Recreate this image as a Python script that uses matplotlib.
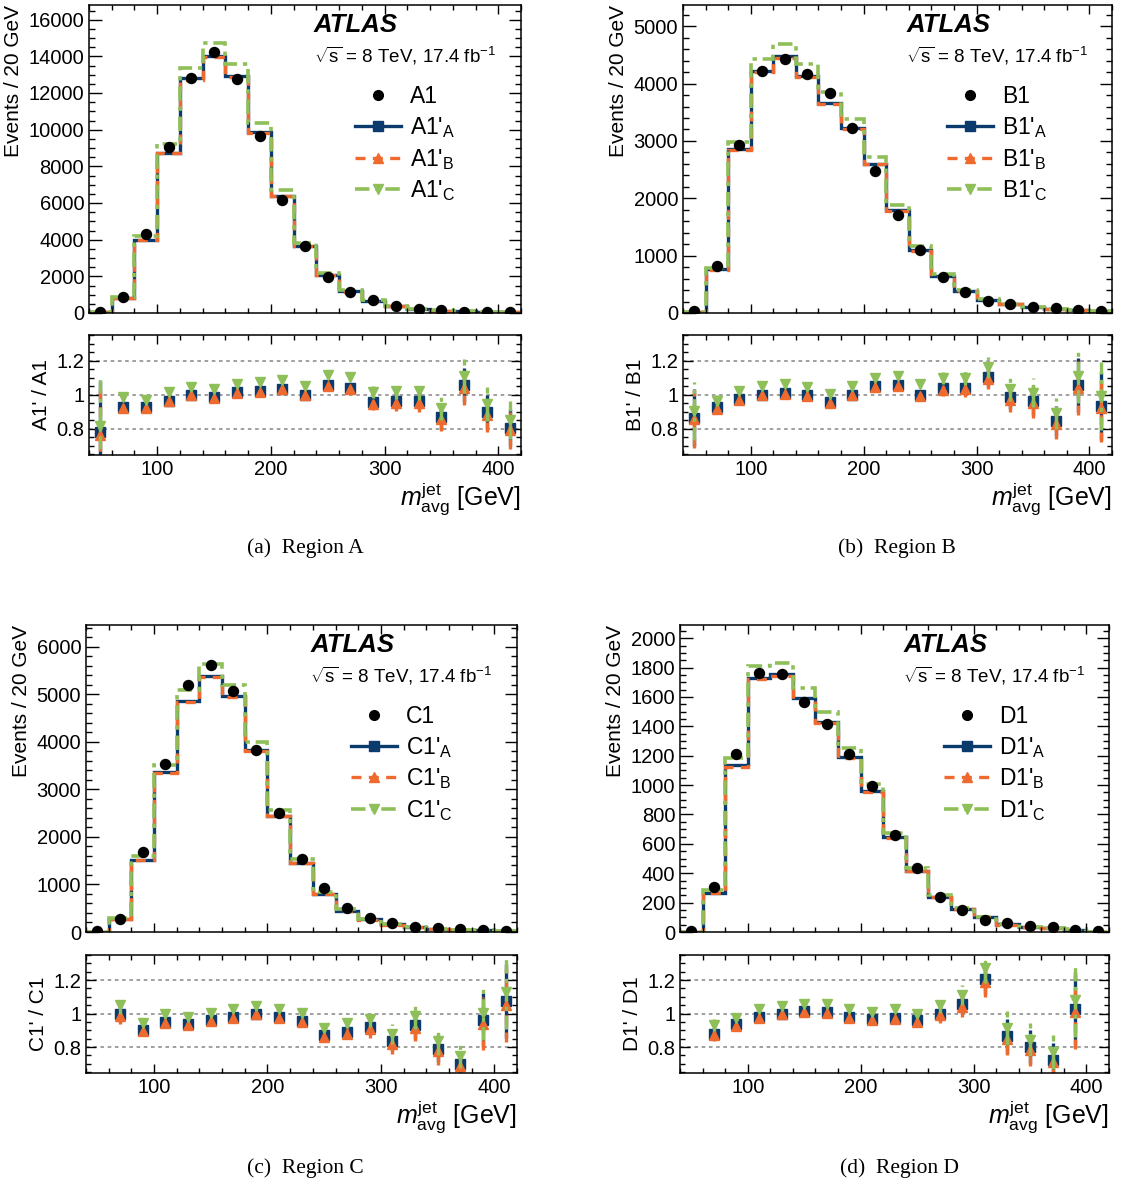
import numpy as np
import matplotlib
matplotlib.use("Agg")
import matplotlib.pyplot as plt
from matplotlib.ticker import MultipleLocator, FixedLocator, FixedFormatter, NullFormatter
from matplotlib.lines import Line2D

plt.rcParams['font.family'] = ['Liberation Sans', 'DejaVu Sans']
plt.rcParams['mathtext.fontset'] = 'custom'
plt.rcParams['mathtext.rm'] = 'Liberation Sans'
plt.rcParams['mathtext.it'] = 'Liberation Sans:italic'
plt.rcParams['mathtext.bf'] = 'Liberation Sans:bold'

nan = np.nan

# bin edges in m_avg^jet [GeV]
bin_edges = [40, 60, 80, 100, 120, 140, 160, 180, 200, 220, 240,
             260, 280, 300, 320, 340, 360, 380, 400, 420]

# region A
a_data = [40, 900, 4310, 9070, 12800, 14230, 12760, 9660, 6180, 3650,
          1980, 1130, 690, 400, 240, 150, 80, 55, 35]
a_ra = [0.78, 0.925, 0.925, 0.965, 1.0, 0.985, 1.015, 1.02, 1.035, 1.0,
        1.055, 1.04, 0.955, 0.96, 0.96, 0.87, 1.055, 0.895, 0.805]
a_rb = [0.76, 0.92, 0.92, 0.96, 0.995, 0.98, 1.01, 1.015, 1.03, 0.995,
        1.05, 1.03, 0.945, 0.95, 0.95, 0.855, 1.04, 0.88, 0.79]
a_rc = [0.815, 0.985, 0.97, 1.015, 1.045, 1.035, 1.065, 1.075, 1.085, 1.05,
        1.115, 1.105, 1.015, 1.02, 1.02, 0.92, 1.11, 0.945, 0.85]
a_err = [0.3, 0.02, 0.01, 0.01, 0.01, 0.01, 0.01, 0.01, 0.01, 0.01,
         0.015, 0.02, 0.035, 0.045, 0.05, 0.07, 0.1, 0.1, 0.11]

# region B
b_data = [28, 820, 2930, 4215, 4430, 4160, 3830, 3220, 2480, 1700,
          1100, 620, 365, 208, 155, 108, 80, 45, 28]
b_ra = [0.865, 0.925, 0.975, 1.0, 1.01, 0.995, 0.955, 1.0, 1.05, 1.055,
        1.0, 1.04, 1.04, 1.105, 0.985, 0.965, 0.845, 1.055, 0.935]
b_rb = [0.855, 0.915, 0.97, 0.995, 1.005, 0.99, 0.95, 0.995, 1.045, 1.05,
        0.99, 1.025, 1.03, 1.09, 0.97, 0.95, 0.83, 1.04, 0.92]
b_rc = [0.905, 0.965, 1.02, 1.05, 1.06, 1.045, 1.005, 1.05, 1.1, 1.11,
        1.06, 1.1, 1.1, 1.16, 1.03, 1.01, 0.89, 1.11, 0.99]
b_err = [0.17, 0.03, 0.01, 0.01, 0.01, 0.01, 0.01, 0.01, 0.01, 0.015,
         0.02, 0.035, 0.045, 0.06, 0.07, 0.085, 0.09, 0.16, 0.2]

# region C
c_data = [15, 275, 1683, 3540, 5200, 5620, 5070, 3830, 2500, 1528,
          930, 507, 290, 190, 106, 77, 60, 35, 15]
c_ra = [nan, 1.0, 0.9, 0.95, 0.935, 0.96, 0.98, 1.0, 0.98, 0.955,
        0.87, 0.89, 0.92, 0.835, 0.93, 0.79, 0.70, 0.96, 1.075]
c_rb = [nan, 0.985, 0.895, 0.945, 0.93, 0.955, 0.975, 0.995, 0.975, 0.95,
        0.86, 0.88, 0.905, 0.82, 0.915, 0.775, 0.685, 0.94, 1.05]
c_rc = [nan, 1.05, 0.945, 0.995, 0.98, 1.005, 1.025, 1.045, 1.025, 1.005,
        0.915, 0.945, 0.97, 0.88, 0.985, 0.835, 0.745, 1.005, 1.13]
c_err = [nan, 0.05, 0.01, 0.01, 0.01, 0.01, 0.01, 0.01, 0.01, 0.015,
         0.025, 0.03, 0.05, 0.06, 0.08, 0.08, 0.07, 0.16, 0.22]

# region D
d_data = [5, 305, 1213, 1765, 1754, 1567, 1418, 1213, 995, 660,
          434, 239, 149, 83, 60, 44, 34, 16, 5]
d_ra = [nan, 0.88, 0.935, 0.98, 1.0, 1.015, 1.01, 0.98, 0.965, 0.975,
        0.96, 1.0, 1.055, 1.205, 0.865, 0.8, 0.725, 1.03, nan]
d_rb = [nan, 0.87, 0.925, 0.975, 0.995, 1.01, 1.005, 0.975, 0.96, 0.965,
        0.95, 0.99, 1.04, 1.19, 0.85, 0.785, 0.71, 1.01, nan]
d_rc = [nan, 0.93, 0.975, 1.025, 1.045, 1.06, 1.055, 1.03, 1.01, 1.025,
        1.0, 1.05, 1.11, 1.27, 0.915, 0.845, 0.77, 1.08, nan]
d_err = [nan, 0.035, 0.015, 0.01, 0.01, 0.01, 0.01, 0.01, 0.015, 0.015,
         0.02, 0.045, 0.06, 0.09, 0.1, 0.1, 0.1, 0.22, nan]

blue = '#0b3a6c'
orange = '#ee6a2e'
green = '#8fbf58'
ls_a = '-'
ls_b = (0, (3, 2.2))
ls_c = (0, (4, 1.6, 1.2, 1.6))

W, H = 1124, 1184
fig = plt.figure(figsize=(W / 100, H / 100), dpi=100)

# name, data, ratios, err, ymax, major, minor, pixel boxes, caption
panels = [
    ('A', a_data, a_ra, a_rb, a_rc, a_err, 16800, 2000, 500,
     (89, 521, 5, 313, 335, 455), (305, 548), '(a)  Region A'),
    ('B', b_data, b_ra, b_rb, b_rc, b_err, 5370, 1000, 200,
     (683, 1112, 5, 313, 335, 455), (897, 548), '(b)  Region B'),
    ('C', c_data, c_ra, c_rb, c_rc, c_err, 6460, 1000, 200,
     (86, 517, 625, 932, 955, 1073), (305, 1168), '(c)  Region C'),
    ('D', d_data, d_ra, d_rb, d_rc, d_err, 2090, 200, 50,
     (680, 1109, 625, 932, 955, 1073), (900, 1168), '(d)  Region D'),
]

edges = np.array(bin_edges)
centres = (edges[:-1] + edges[1:]) / 2


def style_axis(ax, ylen):
    ax.tick_params(which='both', direction='in', top=True, right=True,
                   labelsize=14.5, width=1.0)
    ax.tick_params(which='major', axis='x', length=6.5)
    ax.tick_params(which='minor', axis='x', length=3.5)
    ax.tick_params(which='major', axis='y', length=ylen)
    ax.tick_params(which='minor', axis='y', length=ylen / 2)
    for s in ax.spines.values():
        s.set_linewidth(1.1)
    ax.set_xlim(40, 420)
    ax.xaxis.set_major_locator(MultipleLocator(100))
    ax.xaxis.set_minor_locator(MultipleLocator(20))


for (name, data, ra, rb, rc, err, ymax, major, minor, box, cap_pos, cap) in panels:
    x0, x1, yt, yb, rt, rbot = box
    data = np.array(data)
    ra, rb, rc, err = map(np.array, (ra, rb, rc, err))

    ax = fig.add_axes([x0 / W, 1 - yb / H, (x1 - x0) / W, (yb - yt) / H])
    axr = fig.add_axes([x0 / W, 1 - rbot / H, (x1 - x0) / W, (rbot - rt) / H])

    # main panel
    for r, c, ls, lw in [(ra, blue, ls_a, 2.4), (rb, orange, ls_b, 2.4), (rc, green, ls_c, 2.6)]:
        ax.stairs(np.nan_to_num(r * data), edges, color=c, lw=lw, ls=ls)
    ax.plot(centres, data, 'o', color='k', ms=7.2, zorder=5)
    ax.set_ylim(0, ymax)
    style_axis(ax, 9)
    ax.yaxis.set_major_locator(MultipleLocator(major))
    ax.yaxis.set_minor_locator(MultipleLocator(minor))
    ax.xaxis.set_major_formatter(NullFormatter())
    ax.set_ylabel('Events / 20 GeV', loc='top', fontsize=15, labelpad=4)

    ax.text(0.52, 0.935, 'ATLAS', transform=ax.transAxes, fontsize=18.5,
            fontweight='bold', fontstyle='italic', va='center', ha='left')
    ax.text(0.52, 0.835, r'$\sqrt{\mathrm{s}}$ = 8 TeV, 17.4 fb$^{-1}$',
            transform=ax.transAxes, fontsize=13.5, va='center', ha='left')

    handles = [
        Line2D([], [], color='k', marker='o', ls='none', ms=7),
        Line2D([], [], color=blue, ls=ls_a, lw=2.4, marker='s', ms=7),
        Line2D([], [], color=orange, ls=ls_b, lw=2.4, marker='^', ms=7),
        Line2D([], [], color=green, ls=ls_c, lw=2.6, marker='v', ms=7),
    ]
    labels = [name + '1',
              name + "1'$_{\\mathrm{A}}$",
              name + "1'$_{\\mathrm{B}}$",
              name + "1'$_{\\mathrm{C}}$"]
    ax.legend(handles, labels, loc='upper left', bbox_to_anchor=(0.615, 0.74),
              frameon=False, fontsize=16.5, handlelength=2.0, labelspacing=0.3,
              handletextpad=0.4, borderpad=0, borderaxespad=0)

    # ratio panel
    for yv in (0.8, 1.0, 1.2):
        axr.axhline(yv, color='#999999', lw=1.3, ls=(0, (2, 2)), zorder=0)
    for r, c, ls, mk in [(ra, blue, ls_a, 's'), (rb, orange, ls_b, '^'), (rc, green, ls_c, 'v')]:
        axr.vlines(centres, r - err, r + err, colors=c, linestyles=ls, lw=2.4)
        axr.plot(centres, r, mk, color=c, ms=7.5, ls='none')
    axr.set_ylim(0.645, 1.35)
    style_axis(axr, 7)
    axr.yaxis.set_major_locator(FixedLocator([0.8, 1.0, 1.2]))
    axr.yaxis.set_major_formatter(FixedFormatter(['0.8', '1', '1.2']))
    axr.yaxis.set_minor_locator(MultipleLocator(0.05))
    axr.set_ylabel(name + "1' / " + name + '1', fontsize=15, labelpad=4)
    axr.set_xlabel(r'$m^{\mathrm{jet}}_{\mathrm{avg}}$ [GeV]', loc='right',
                   fontsize=18, labelpad=1)

    fig.text(cap_pos[0] / W, 1 - cap_pos[1] / H, cap, ha='center', va='center',
             family=['Liberation Serif', 'DejaVu Serif'], fontsize=15.5)

fig.savefig('out.png', dpi=100)
